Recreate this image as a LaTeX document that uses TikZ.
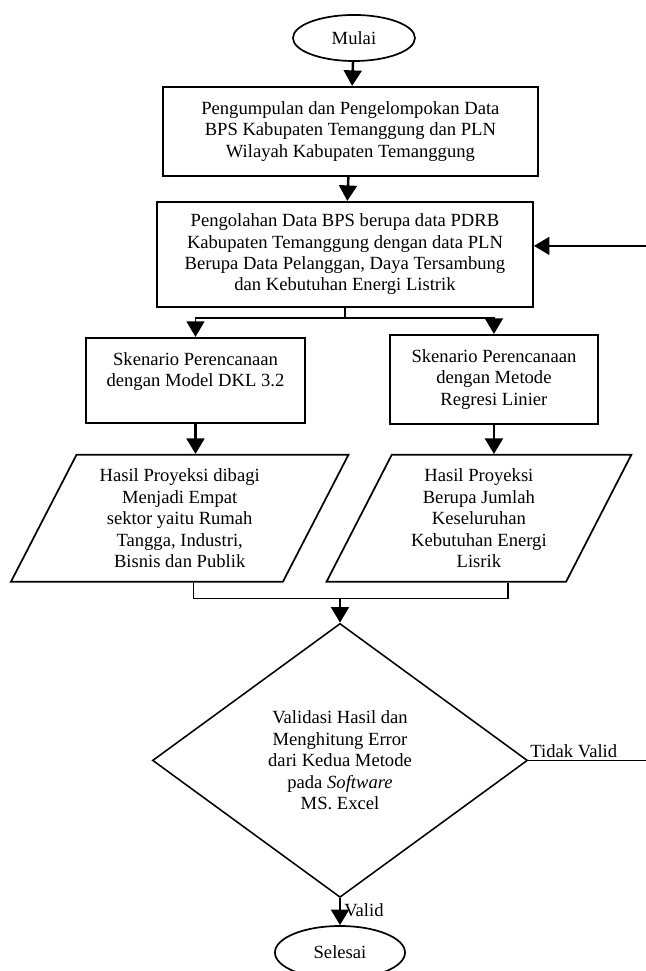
\documentclass[tikz,border=0pt]{standalone}
\usepackage{fontspec}
\setmainfont{Liberation Serif}
\usepackage{tikz}
\usetikzlibrary{positioning,arrows.meta,shapes.geometric,calc}

\begin{document}
\begin{tikzpicture}[>={Triangle[length=10pt,width=11.5pt]},auto,
                    font=\fontsize{12}{13.8}\selectfont]
  \tikzstyle{terminal}=[ellipse,draw,line width=1.1pt,inner sep=0pt]
  \tikzstyle{process}=[rectangle,draw,line width=1.3pt,align=center,inner sep=2pt]
  \tikzstyle{data}=[trapezium,trapezium left angle=63,trapezium right angle=117,
                    trapezium stretches=true,draw,line width=1.1pt,align=center,inner sep=1pt]
  \tikzstyle{decision}=[diamond,aspect=1.37,draw,line width=1pt,align=center,inner sep=1pt]
  \tikzstyle{flow}=[->,line width=1.6pt]
  \tikzstyle{link}=[line width=0.8pt]

  \useasboundingbox (-228.3pt,24.5pt) rectangle (188.3pt,-601.8pt);

  \node[terminal,minimum width=78.7pt,minimum height=29.7pt] (mulai) {Mulai};
  \node[process,minimum width=241.9pt,minimum height=57.4pt] (kumpul)
       [below=15.5pt of mulai,xshift=-2.3pt]
       {Pengumpulan dan Pengelompokan Data\\BPS Kabupaten Temanggung dan PLN\\Wilayah Kabupaten Temanggung};
  \node[process,minimum width=242.5pt,minimum height=67.7pt] (olah)
       [below=15.5pt of kumpul,xshift=-3.5pt]
       {Pengolahan Data BPS berupa data PDRB\\Kabupaten Temanggung dengan data PLN\\Berupa Data Pelanggan, Daya Tersambung\\dan Kebutuhan Energi Listrik};
  \node[process,minimum width=141.3pt,minimum height=54.8pt] (dkl)
       [below=18.7pt of olah.south,xshift=-96.4pt]
       {Skenario Perencanaan\\dengan Model DKL 3.2\\~};
  \node[process,minimum width=134.2pt,minimum height=57.4pt] (regresi)
       [below=16.8pt of olah.south,xshift=96.1pt]
       {Skenario Perencanaan\\dengan Metode\\Regresi Linier};
  \node[data,minimum width=218pt,minimum height=81.9pt] (hasila)
       [below=19.4pt of dkl,xshift=-10.2pt]
       {Hasil Proyeksi dibagi\\Menjadi Empat\\sektor yaitu Rumah\\Tangga, Industri,\\Bisnis dan Publik};
  \node[data,minimum width=196.7pt,minimum height=81.9pt] (hasilb)
       [below=18.7pt of regresi,xshift=-9.7pt]
       {Hasil Proyeksi\\Berupa Jumlah\\Keseluruhan\\Kebutuhan Energi\\Lisrik};

  \coordinate (split) at ([yshift=-6.5pt]olah.south);
  \coordinate (join) at ($(olah.south |- hasila.south)+(-3.2pt,-10.3pt)$);

  \node[decision,minimum width=241.9pt,minimum height=176.7pt] (validasi)
       [below=15.5pt of join]
       {Validasi Hasil dan\\Menghitung Error\\dari Kedua Metode\\pada \textit{Software}\\MS. Excel};
  \node[terminal,minimum width=83.9pt,minimum height=34.2pt] (selesai)
       [below=17.4pt of validasi] {Selesai};

  \draw[flow] (mulai) -- (kumpul);
  \draw[flow] (kumpul) -- (olah);
  \draw[link] (olah.south) -- (split);
  \draw[flow,line width=1.1pt] (split) -| (dkl.north);
  \draw[flow,line width=1.1pt] (split) -| (regresi.north);
  \draw[flow] (dkl.south) -- (dkl.south |- hasila.north);
  \draw[flow] (regresi.south) -- (regresi.south |- hasilb.north);
  \draw[link] ([xshift=9pt]hasila.south) |- (join);
  \draw[link] ([xshift=18.7pt]hasilb.south) |- (join);
  \draw[flow] (join) -- (validasi);
  \draw[flow] (validasi) -- node[right,pos=0.45,inner sep=2pt] {Valid} (selesai);
  \draw[link] (validasi.east) -- node[pos=0,above right,inner sep=1pt] {Tidak Valid}
        ++(78.7pt,0) coordinate (back);
  \draw[flow] (back) |- ([yshift=5.5pt]olah.east);
\end{tikzpicture}
\end{document}
